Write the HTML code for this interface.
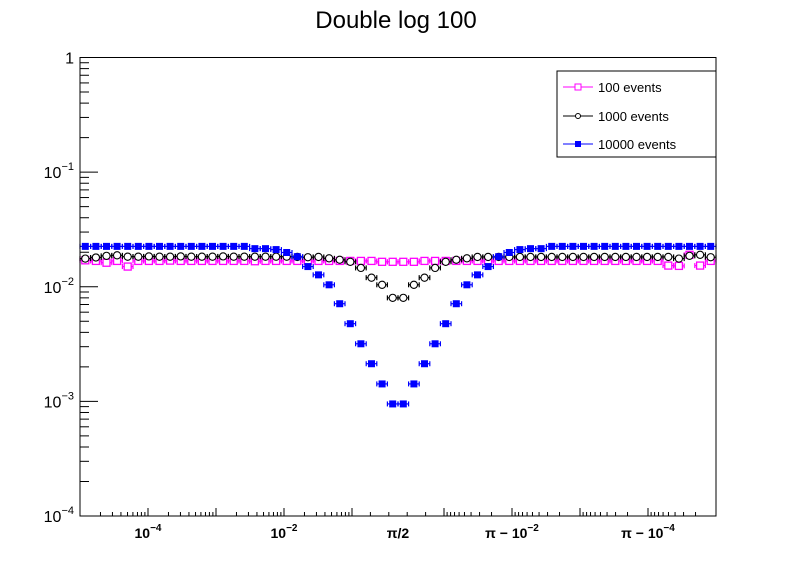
<!DOCTYPE html>
<html><head><meta charset="utf-8"><style>
html,body{margin:0;padding:0;background:#fff;}
svg{display:block;font-family:"Liberation Sans",Arial,sans-serif;}
</style></head><body>
<svg id="chart" width="796" height="572" viewBox="0 0 796 572" xmlns="http://www.w3.org/2000/svg">
<rect x="0" y="0" width="796" height="572" fill="#fff"/>
<text x="396" y="28" font-size="24" text-anchor="middle">Double log 100</text>
<g id="axes"></g>
<g id="series"></g>
<rect x="80" y="57.5" width="636" height="458.5" fill="none" stroke="#000" stroke-width="1"/>
<g>
<rect x="557" y="71" width="159" height="86" fill="#fff" stroke="#000" stroke-width="1"/>
<g>
<line x1="563" y1="87" x2="593" y2="87" stroke="#ff00ff"/><rect x="575" y="84" width="6" height="6" fill="#fff" stroke="#ff00ff"/>
<text x="598" y="92" font-size="13">100 events</text></g>
<g>
<line x1="563" y1="116" x2="593" y2="116" stroke="#000"/><circle cx="578" cy="116" r="2.5" fill="#fff" stroke="#000"/>
<text x="598" y="121" font-size="13">1000 events</text></g>
<g>
<line x1="563" y1="144" x2="593" y2="144" stroke="#0000ff"/><rect x="575" y="141" width="6" height="6" fill="#0000ff"/>
<text x="598" y="149" font-size="13">10000 events</text></g>
</g>
</svg>
<script>
const binCount = 60;
const seriesNames = ["100 events","1000 events","10000 events"];
const values100 = [0.0170,0.0168,0.0162,0.0168,0.0150,0.0168,0.0168,0.0168,0.0169,0.0168,0.0168,0.0168,0.0168,0.0168,0.0168,0.0168,0.0167,0.0168,0.0168,0.0168,0.0168,0.0168,0.0168,0.0168,0.0168,0.0168,0.0168,0.0168,0.0165,0.0165,0.0165,0.0165,0.0168,0.0168,0.0168,0.0168,0.0168,0.0168,0.0168,0.0168,0.0168,0.0168,0.0168,0.0168,0.0168,0.0168,0.0168,0.0168,0.0168,0.0168,0.0168,0.0168,0.0168,0.0168,0.0168,0.0153,0.0152,0.0190,0.0153,0.0168];
const values1000 = [0.0176,0.0180,0.0186,0.0188,0.0183,0.0183,0.0184,0.0183,0.0183,0.0184,0.0183,0.0183,0.0183,0.0184,0.0183,0.0183,0.0183,0.0183,0.0183,0.0183,0.0182,0.0181,0.0182,0.0177,0.0172,0.0165,0.0146,0.0120,0.0104,0.0080,0.0080,0.0104,0.0120,0.0146,0.0165,0.0172,0.0177,0.0182,0.0182,0.0182,0.0182,0.0182,0.0182,0.0182,0.0182,0.0182,0.0182,0.0182,0.0182,0.0182,0.0182,0.0182,0.0182,0.0182,0.0182,0.0182,0.0176,0.0186,0.0190,0.0181];
const values10000 = [0.0225,0.0225,0.0225,0.0225,0.0225,0.0225,0.0225,0.0225,0.0225,0.0225,0.0225,0.0225,0.0225,0.0225,0.0225,0.0225,0.0215,0.0215,0.0211,0.0199,0.0183,0.0150,0.0127,0.0104,0.00711,0.00476,0.00318,0.00213,0.00142,0.00095,0.00095,0.00142,0.00213,0.00318,0.00476,0.00711,0.0104,0.0127,0.0150,0.0183,0.0199,0.0211,0.0215,0.0215,0.0225,0.0225,0.0225,0.0225,0.0225,0.0225,0.0225,0.0225,0.0225,0.0225,0.0225,0.0225,0.0225,0.0225,0.0225,0.0225];
const relErrors = [0.06,0.03,0.012];
const yTickExps = [0,-1,-2,-3,-4];
const xTickLabels = ["10<tspan dy='-7' font-size='10'>−4</tspan>","10<tspan dy='-7' font-size='10'>−2</tspan>","π/2","π − 10<tspan dy='-7' font-size='10'>−2</tspan>","π − 10<tspan dy='-7' font-size='10'>−4</tspan>"];

const NS="http://www.w3.org/2000/svg";
const X0=80,X1=716,Y0=57.5,Y1=516;
function xScale(i){return X0+(i+0.5)*(X1-X0)/binCount;}
function yScale(v){return Y0+(0-Math.log10(v))*(Y1-Y0)/4;}
const binW=(X1-X0)/binCount;
const axes=document.getElementById('axes');
const ser=document.getElementById('series');
function mk(tag,attrs,parent){const e=document.createElementNS(NS,tag);for(const k in attrs)e.setAttribute(k,attrs[k]);parent.appendChild(e);return e;}

// y axis ticks
for(let d=0;d<4;d++){
  for(let k=1;k<=9;k++){
    const v=Math.pow(10,-4+d)*k;
    const y=yScale(v);
    const len=k===1?18:9;
    const t=mk('line',{x1:X0,x2:X0+len,y1:y,y2:y,stroke:'#000'},axes);
    
    
  }
}
yTickExps.forEach(e=>{
  const y=yScale(Math.pow(10,e));
  const t=mk('text',{x:74,y:y+6,'font-size':16,'text-anchor':'end'},axes);
  
  
  if(e===0)t.textContent='1';else t.innerHTML="10<tspan dy='-8' font-size='11'>−"+(-e)+"</tspan>";
});
// x axis ticks
const dec=68, lin=92;
function xt(x,len){const t=mk('line',{x1:x,x2:x,y1:Y1,y2:Y1-len,stroke:'#000'},axes);
  
  }
for(let d=0;d<4;d++){const b=X0+d*dec;xt(b,0);for(let k=2;k<=9;k++)xt(b+Math.log10(k)*dec,4);xt(b+dec,8);}
for(let j=1;j<5;j++)xt(X0+4*dec+j*lin/5,4);
const R=X0+4*dec+lin;
for(let d=0;d<4;d++){const b=R+d*dec;xt(b,8);for(let k=9;k>=2;k--)xt(b+(1-Math.log10(k))*dec,4);}
const labelX=[X0+dec,X0+3*dec,X0+4*dec+lin/2,R+dec,R+3*dec];
xTickLabels.forEach((s,i)=>{
  const t=mk('text',{x:labelX[i],y:538,'font-size':14,'font-weight':'bold','text-anchor':'middle'},axes);
  
  
  t.innerHTML=s;
});
// series
const allSeries=[values100,values1000,values10000];
const colors=['#ff00ff','#000000','#0000ff'];
allSeries.forEach((vals,s)=>{
  const g=mk('g',{},ser);
  
  
  const c=colors[s];
  vals.forEach((v,i)=>{
    const x=xScale(i),y=yScale(v);
    const yu=yScale(v*(1+relErrors[s])),yd=yScale(v*(1-relErrors[s]));
    mk('line',{x1:x-binW/2,x2:x+binW/2,y1:y,y2:y,stroke:c,'stroke-width':1.2},g);
    mk('line',{x1:x-binW/2,x2:x-binW/2,y1:y-2.5,y2:y+2.5,stroke:c,'stroke-width':1.2},g);
    mk('line',{x1:x+binW/2,x2:x+binW/2,y1:y-2.5,y2:y+2.5,stroke:c,'stroke-width':1.2},g);
    mk('line',{x1:x,x2:x,y1:yu,y2:yd,stroke:c,'stroke-width':1.2},g);
    mk('line',{x1:x-2.5,x2:x+2.5,y1:yu,y2:yu,stroke:c,'stroke-width':1.2},g);
    mk('line',{x1:x-2.5,x2:x+2.5,y1:yd,y2:yd,stroke:c,'stroke-width':1.2},g);
    let m;
    if(s===0)m=mk('rect',{x:x-3.5,y:y-3.5,width:7,height:7,fill:'#fff',stroke:c,'stroke-width':1.3},g);
    else if(s===1)m=mk('circle',{cx:x,cy:y,r:3.6,fill:'#fff',stroke:c,'stroke-width':1.1},g);
    else m=mk('rect',{x:x-3.5,y:y-3.5,width:7,height:7,fill:c},g);
    
    
  });
});
</script>
</body></html>
